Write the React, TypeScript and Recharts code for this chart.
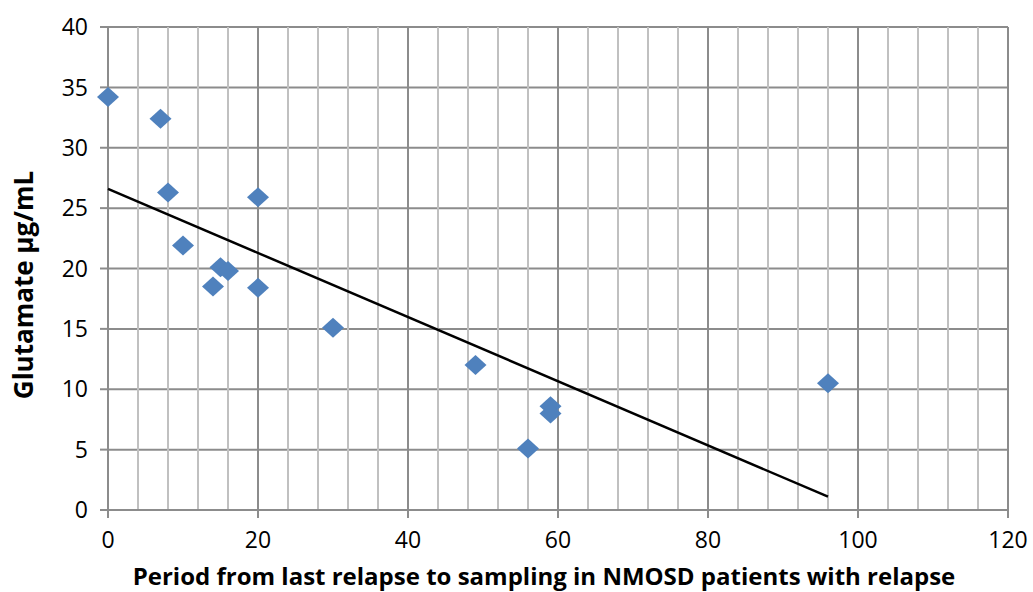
import {
  ScatterChart, Scatter, XAxis, YAxis, CartesianGrid, ReferenceLine,
} from 'recharts';

const xTicks = [0, 20, 40, 60, 80, 100, 120];
const yTicks = [0, 5, 10, 15, 20, 25, 30, 35, 40];
const minorX = [4, 8, 12, 16, 24, 28, 32, 36, 44, 48, 52, 56, 64, 68, 72, 76, 84, 88, 92, 96, 104, 108, 112, 116];

const daysSinceRelapse = [0, 7, 8, 10, 15, 16, 14, 20, 20, 30, 49, 59, 59, 56, 96];
const glutamate = [34.2, 32.4, 26.3, 21.9, 20.1, 19.8, 18.5, 25.9, 18.4, 15.1, 12.0, 8.6, 8.0, 5.1, 10.5];

const trendX = [0, 96];
const trendY = [26.6, 1.1];

const points = daysSinceRelapse.map((x, i) => ({ x, y: glutamate[i] }));
const trend = trendX.map((x, i) => ({ x, y: trendY[i] }));

const FONT = '"Open Sans", sans-serif';

const Diamond = (props: { cx?: number; cy?: number }) => {
  const { cx = 0, cy = 0 } = props;
  return (
    <polygon
      points={`${cx},${cy - 10} ${cx + 11},${cy} ${cx},${cy + 10} ${cx - 11},${cy}`}
      fill="#4F81BD"
    />
  );
};

const XTitle = (props: { viewBox?: { x: number; y: number; width: number; height: number } }) => {
  const vb = props.viewBox || { x: 0, y: 0, width: 0, height: 0 };
  return (
    <text
      x={vb.x + vb.width / 2 - 14}
      y={vb.y + vb.height - 7}
      textAnchor="middle"
      fontFamily={FONT}
      fontWeight={700}
      fontSize={24}
      fill="#000"
    >
      Period from last relapse to sampling in NMOSD patients with relapse
    </text>
  );
};

const YTitle = () => (
  <text
    x={0}
    y={0}
    transform="translate(33, 285) rotate(-90)"
    textAnchor="middle"
    fontFamily={FONT}
    fontWeight={700}
    fontSize={26}
    fill="#000"
  >
    Glutamate µg/mL
  </text>
);

export default function App() {
  return (
    <div style={{ position: 'absolute', left: 0, top: 0, width: 1033, height: 592, background: '#fff' }}>
      <ScatterChart width={1033} height={592} margin={{ top: 27, right: 25, bottom: 0, left: 0 }}>
        {minorX.map((v) => (
          <ReferenceLine key={v} x={v} stroke="#c0c0c0" strokeWidth={2} />
        ))}
        <CartesianGrid stroke="#8c8c8c" strokeWidth={2} />
        <XAxis
          type="number"
          dataKey="x"
          domain={[0, 120]}
          ticks={xTicks}
          height={82}
          tickSize={8}
          tickMargin={14}
          stroke="#8c8c8c"
          strokeWidth={2}
          tick={{ fill: '#000', fontSize: 23, fontFamily: FONT }}
          label={<XTitle />}
        />
        <YAxis
          type="number"
          dataKey="y"
          domain={[0, 40]}
          ticks={yTicks}
          width={108}
          tickSize={8}
          tickMargin={12}
          stroke="#8c8c8c"
          strokeWidth={2}
          tick={{ fill: '#000', fontSize: 23, fontFamily: FONT }}
          label={<YTitle />}
        />
        <Scatter
          data={trend}
          line={{ stroke: '#000', strokeWidth: 2.5 }}
          shape={() => <g />}
          isAnimationActive={false}
        />
        <Scatter data={points} shape={<Diamond />} isAnimationActive={false} />
      </ScatterChart>
    </div>
  );
}
